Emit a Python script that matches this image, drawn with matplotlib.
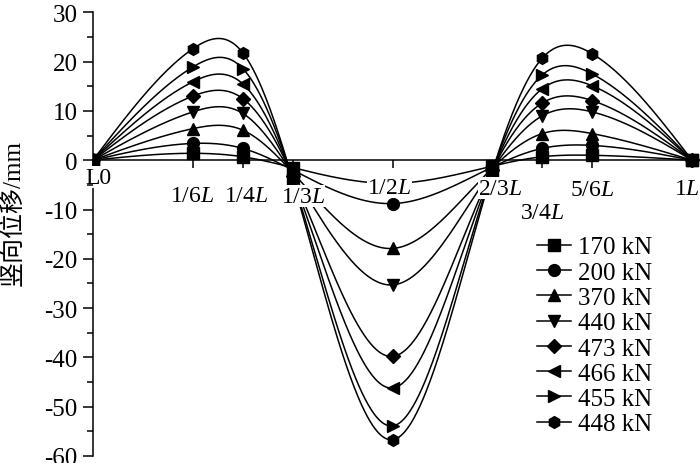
import matplotlib
matplotlib.use("Agg")
import matplotlib.pyplot as plt
import matplotlib.transforms as mtransforms
import numpy as np
from matplotlib.ticker import MultipleLocator

plt.rcParams["font.family"] = ["Liberation Serif", "Noto Sans CJK SC"]
plt.rcParams["mathtext.fontset"] = "custom"
plt.rcParams["mathtext.rm"] = "Liberation Serif"
plt.rcParams["mathtext.it"] = "Liberation Serif:italic"
plt.rcParams["axes.unicode_minus"] = False

# --- data ---
positions = [0, 1 / 6, 1 / 4, 1 / 3, 1 / 2, 2 / 3, 3 / 4, 5 / 6, 1]
tick_labels = ["L0", r"1/6$L$", r"1/4$L$", r"1/3$L$", r"1/2$L$",
               r"2/3$L$", r"3/4$L$", r"5/6$L$", r"1$L$"]

loads = ["170 kN", "200 kN", "370 kN", "440 kN", "473 kN", "466 kN", "455 kN", "448 kN"]
disp_170 = [0, 1.4, 0.7, -1.5, -4.7, -1.2, 0.7, 1.0, 0]
disp_200 = [0, 3.4, 2.4, -2.0, -8.8, -1.4, 2.4, 3.0, 0]
disp_370 = [0, 6.4, 6.1, -2.5, -17.9, -1.6, 5.4, 5.4, 0]
disp_440 = [0, 9.8, 9.5, -2.8, -25.3, -1.8, 9.0, 9.8, 0]
disp_473 = [0, 13.0, 12.5, -3.2, -39.8, -2.0, 11.6, 12.1, 0]
disp_466 = [0, 15.9, 15.5, -3.5, -46.2, -2.1, 14.5, 15.1, 0]
disp_455 = [0, 18.9, 18.6, -3.8, -53.9, -2.2, 17.3, 17.5, 0]
disp_448 = [0, 22.6, 21.8, -4.0, -56.7, -2.3, 20.7, 21.6, 0]
series = [disp_170, disp_200, disp_370, disp_440, disp_473, disp_466, disp_455, disp_448]
markers = ["s", "o", "^", "v", "D", "<", ">", "h"]


def natural_spline(x, y, xs):
    # plain natural cubic spline, used only to draw the smooth connecting line
    x = np.asarray(x, float)
    y = np.asarray(y, float)
    n = len(x)
    h = np.diff(x)
    A = np.zeros((n, n))
    r = np.zeros(n)
    A[0, 0] = A[-1, -1] = 1
    for i in range(1, n - 1):
        A[i, i - 1] = h[i - 1]
        A[i, i] = 2 * (h[i - 1] + h[i])
        A[i, i + 1] = h[i]
        r[i] = 3 * ((y[i + 1] - y[i]) / h[i] - (y[i] - y[i - 1]) / h[i - 1])
    c = np.linalg.solve(A, r)
    b = (y[1:] - y[:-1]) / h - h * (2 * c[:-1] + c[1:]) / 3
    d = (c[1:] - c[:-1]) / (3 * h)
    idx = np.clip(np.searchsorted(x, xs) - 1, 0, n - 2)
    dx = xs - x[idx]
    return y[idx] + b[idx] * dx + c[idx] * dx ** 2 + d[idx] * dx ** 3


fig = plt.figure(figsize=(7, 4.64), dpi=100)
ax = fig.add_axes([93 / 700, 1 - 457 / 464, 607 / 700, (457 - 13.3) / 464])

xs = np.linspace(0, 1, 600)
for vals, mk, lab in zip(series, markers, loads):
    ms = 7 if mk == "D" else 8.5
    ax.plot(xs, natural_spline(positions, vals, xs), color="black", lw=1.1)
    ax.plot(positions, vals, linestyle="none", marker=mk, ms=ms, color="black")
    ax.plot([], [], color="black", lw=1.1, marker=mk, ms=ms, label=lab)

ax.set_xlim(0, 607 / 599)
ax.set_ylim(-60, 30)
ax.spines["top"].set_visible(False)
ax.spines["right"].set_visible(False)
ax.spines["bottom"].set_position(("data", 0))
for s in ax.spines.values():
    s.set_linewidth(1.1)

ax.yaxis.set_major_locator(MultipleLocator(10))
ax.yaxis.set_minor_locator(MultipleLocator(5))
ax.tick_params(axis="y", which="major", direction="out", length=7, width=1.1,
               labelsize=18, pad=4)
ax.tick_params(axis="y", which="minor", direction="out", length=4, width=1.1)
ax.tick_params(axis="x", which="major", direction="out", length=6, width=1.1,
               labelsize=17, pad=3)

ax.set_xticks(positions)
ax.set_xticklabels(tick_labels)
ax.set_axisbelow(False)

# nudge individual tick labels (pixels) so they do not collide
nudges = [(5, 6), (-1, -12), (3, -12), (10, -13), (-3, -4), (8, -5), (0, -29), (0, -6), (-5, -5)]
for lbl, (dx, dy) in zip(ax.get_xticklabels(), nudges):
    off = mtransforms.ScaledTranslation(dx / 100, dy / 100, fig.dpi_scale_trans)
    lbl.set_transform(lbl.get_transform() + off)
    lbl.set_bbox(dict(facecolor="white", edgecolor="none", pad=0.3))

ax.set_ylabel("竖向位移/mm", fontsize=18)
ax.yaxis.set_label_coords(-0.112, 0.55)

ax.legend(loc="upper left", bbox_to_anchor=(537 / 700, 1 - 237 / 464),
          bbox_transform=fig.transFigure, frameon=False,
          fontsize=18, handlelength=1.35, handletextpad=0.3, labelspacing=0.11,
          borderpad=0, borderaxespad=0)

fig.savefig("out.png", dpi=100)
